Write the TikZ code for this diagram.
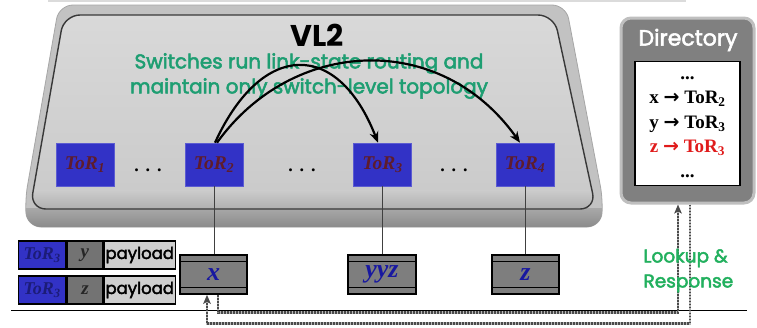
\documentclass[tikz,border=0pt]{standalone}
\usepackage{fontspec}
\setmainfont{Liberation Serif}
\newfontfamily\comic{Poppins}[FakeBold=2.5]
\newfontfamily\comicbold{Poppins}[UprightFont=*, BoldFont=* Bold]
\newfontfamily\symfont{DejaVu Sans}
\usetikzlibrary{arrows.meta}

\definecolor{torblue}{HTML}{3232C6}
\definecolor{tortext}{HTML}{5E1C2C}
\definecolor{hostgray}{HTML}{7E7E7E}
\definecolor{noteteal}{HTML}{1E9E72}
\definecolor{notegreen}{HTML}{22B05E}
\definecolor{hostblue}{HTML}{1818A0}
\definecolor{dirred}{HTML}{E01B1B}
\definecolor{pathgray}{HTML}{4A4A4A}
\definecolor{pktnavy}{HTML}{1C1C78}

\tikzset{
  torbox/.style={rectangle, fill=torblue, draw=torblue!80!white, line width=0.6pt,
    minimum width=58pt, minimum height=43pt, inner sep=0pt, text=tortext,
    font=\fontsize{19.5}{19.5}\selectfont\bfseries\itshape},
  hostbox/.style={rectangle, fill=hostgray, draw=black, line width=1.6pt,
    minimum height=39pt, inner sep=0pt, text=hostblue,
    font=\fontsize{26}{26}\selectfont\bfseries\itshape,
    path picture={
      \draw[line width=1.3pt]
        ([yshift=-6.5pt]path picture bounding box.north west) --
        ([yshift=-6.5pt]path picture bounding box.north east);
      \draw[line width=1.3pt]
        ([yshift=6.5pt]path picture bounding box.south west) --
        ([yshift=6.5pt]path picture bounding box.south east);}},
  pkt/.style={rectangle, draw=black, line width=1.3pt, minimum height=28pt,
    inner sep=0pt, anchor=west},
  pkttor/.style={pkt, fill=torblue, minimum width=47pt, text=pktnavy,
    font=\fontsize{18}{18}\selectfont\bfseries\itshape},
  pktaddr/.style={pkt, fill=black!55, minimum width=36pt, text=black!85,
    font=\fontsize{19}{19}\selectfont\bfseries\itshape},
  pktload/.style={pkt, fill=black!19, minimum width=71pt,
    font=\comic\fontsize{16.5}{16.5}\selectfont},
  dots/.style={font=\fontsize{18}{18}\selectfont\bfseries},
  flow/.style={line width=2.2pt, -{Stealth[length=11pt,width=9pt,inset=3.5pt]}},
  dotbase/.style={draw=black!28, line width=2.8pt},
  dotpath/.style={draw=pathgray, line width=2.8pt, dash pattern=on 1.8pt off 1.2pt,
    -{Stealth[length=9pt,width=7.5pt,inset=2pt]}},
}

\begin{document}
\begin{tikzpicture}[x=1pt,y=-1pt]
\fill[white] (0,0) rectangle (757,327);
\useasboundingbox (0,0) rectangle (757,327);

% edge of the panel above
\fill[black!14] (48,0) rectangle (686,2);

% ---- VL2 slab: silhouette, side band, top face
\fill[black!24, draw=black!35, line width=0.8pt, rounded corners=14pt]
  (300,5) -- (566,5) -- (603,200) -- (601,227) -- (27,227) -- (25,200) -- (59,5) -- cycle;
\begin{scope}
  \clip[rounded corners=14pt]
    (300,5) -- (566,5) -- (603,200) -- (601,227) -- (27,227) -- (25,200) -- (59,5) -- cycle;
  \shade[top color=black!34, bottom color=black!46] (0,208) rectangle (757,228);
\end{scope}
\shade[top color=black!15, bottom color=black!21, rounded corners=16pt]
  (300,15) -- (554,15) -- (596,209) -- (30,209) -- (64,15) -- cycle;
\begin{scope}
  \clip[rounded corners=16pt]
    (300,15) -- (554,15) -- (596,209) -- (30,209) -- (64,15) -- cycle;
  \shade[top color=black!20, middle color=black!10, bottom color=black!32]
    (0,190) rectangle (757,210);
\end{scope}
\draw[black!78, line width=1.4pt, rounded corners=16pt]
  (300,15) -- (554,15) -- (596,209) -- (30,209) -- (64,15) -- cycle;

\node[font=\comicbold\bfseries\fontsize{30}{30}\selectfont] (vl2) at (317,35) {VL2};
\node[align=center, text=noteteal, font=\comic\fontsize{20}{25}\selectfont]
  (note) at (309,76) {Switches run link-state routing and\\maintain only switch-level topology};

% ---- top-of-rack switches
\node[torbox] (t1) at (85,164.5)  {ToR\textsubscript{1}};
\node[torbox] (t2) at (214,164.5) {ToR\textsubscript{2}};
\node[torbox] (t3) at (382.5,164.5) {ToR\textsubscript{3}};
\node[torbox] (t4) at (525,164.5) {ToR\textsubscript{4}};
\node[dots] (d1) at (148,170) {.\hspace{7pt}.\hspace{7pt}.};
\node[dots] (d2) at (302,170) {.\hspace{7pt}.\hspace{7pt}.};
\node[dots] (d3) at (454,170) {.\hspace{7pt}.\hspace{7pt}.};

% ---- hosts
\node[hostbox, minimum width=67pt] (hx) at (213.5,274.5) {x};
\node[hostbox, minimum width=68pt] (hy) at (382,274.5) {yyz};
\node[hostbox, minimum width=67pt] (hz) at (525.5,274.5) {z};

\draw[black!75, line width=0.8pt] (t2.south) -- (t2.south |- hx.north);
\draw[black!75, line width=0.8pt] (t3.south) -- (t3.south |- hy.north);
\draw[black!75, line width=0.8pt] (t4.south) -- (t4.south |- hz.north);

% ---- routes between switches
\draw[flow] ([xshift=1pt]t2.north) .. controls (262,40) and (338,40) .. ([xshift=-4.5pt]t3.north);
\draw[flow] ([xshift=3pt]t2.north) .. controls (292,38) and (440,30) .. ([xshift=-5pt]t4.north);

% ---- encapsulated packets
\node[pkttor]  (p1a) at (18,255) {ToR\textsubscript{3}};
\node[pktaddr] (p1b) at (p1a.east) {y};
\node[pktload] (p1c) at (p1b.east) {payload};
\node[pkttor]  (p2a) at (18,290) {ToR\textsubscript{3}};
\node[pktaddr] (p2b) at (p2a.east) {z};
\node[pktload] (p2c) at (p2b.east) {payload};

% ---- directory service
\node[rectangle, rounded corners=10pt, fill=black!50, draw=black!25, line width=3pt,
  minimum width=133pt, minimum height=185pt] (dir) at (687.5,110.5) {};
\node[text=white, font=\comic\fontsize{22}{22}\selectfont] (dtitle) at (688,40) {Directory};
\node[rectangle, fill=white, draw=black, line width=1.8pt, minimum width=105pt,
  minimum height=124pt, inner sep=0pt] (dtab) at (687.5,123.5) {};
\node[align=center, inner sep=0pt, font=\fontsize{19}{24.5}\selectfont\bfseries]
  (dlist) at (687.5,127) {...\\ x {\symfont →} ToR\textsubscript{2}\\ y {\symfont →} ToR\textsubscript{3}\\
   \textcolor{dirred}{z {\symfont →} ToR\textsubscript{3}}\\ ...};

% ---- ground line
\coordinate (gl) at (11,310);
\coordinate (gr) at (747,310);
\draw[black, line width=0.8pt] (gl) -- (gr);

% ---- lookup and response (light band under dark dots)
\draw[dotbase, shorten >=7pt] ([xshift=4.5pt]hx.south) -- ++(0,18) -| ([xshift=-9.5pt]dir.south);
\draw[dotpath] ([xshift=4.5pt]hx.south) -- ++(0,18) -| ([xshift=-9.5pt]dir.south);
\draw[dotbase, shorten >=7pt] ([xshift=2.5pt]dir.south) -- ++(0,119) -| ([xshift=-6.5pt]hx.south);
\draw[dotpath] ([xshift=2.5pt]dir.south) -- ++(0,119) -| ([xshift=-6.5pt]hx.south);
\node[anchor=west, align=left, text=notegreen, font=\comic\fontsize{18.5}{25}\selectfont]
  (lk) at (640,270.5) {Lookup \&\\Response};
\end{tikzpicture}
\end{document}
